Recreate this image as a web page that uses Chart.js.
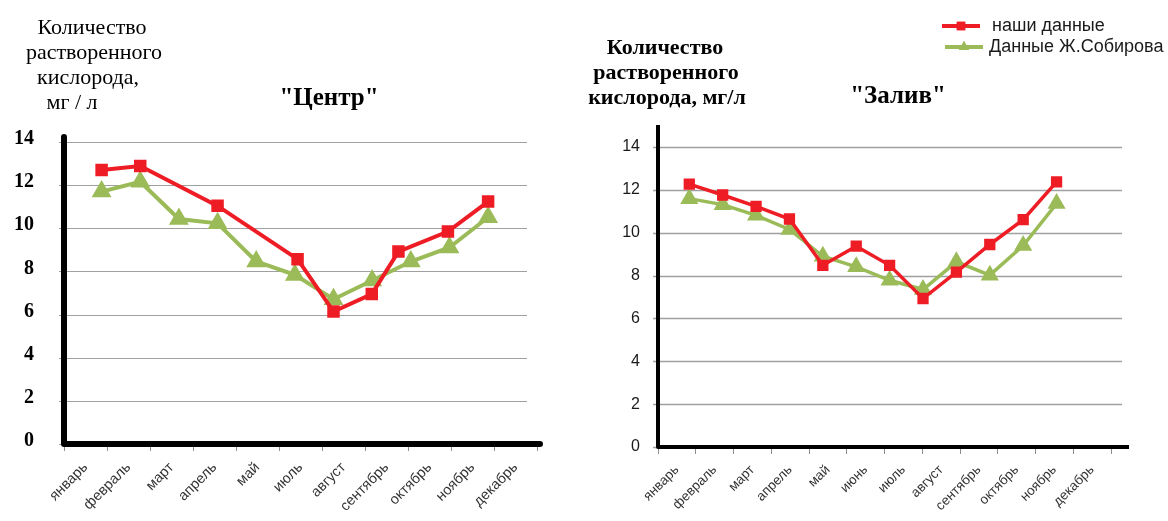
<!DOCTYPE html>
<html>
<head>
<meta charset="utf-8">
<script src="https://cdn.jsdelivr.net/npm/chart.js@4.4.1/dist/chart.umd.min.js"></script>
<style>
  html, body { margin: 0; padding: 0; background: #fff; }
  body { width: 1168px; height: 521px; position: relative; overflow: hidden; }
  .box { position: absolute; top: 0; height: 521px; }
  .t { position: absolute; white-space: nowrap; color: #000; transform: translate(-50%, -50%); line-height: 1; }
  .cap1 { font: 22px "Liberation Serif", serif; }
  .cap2 { font: bold 22px "Liberation Serif", serif; }
  .ttl { font: bold 25px "Liberation Serif", serif; }
  .leg { position: absolute; font: 18px "Liberation Sans", Arial, sans-serif; color: #1a1a1a; white-space: nowrap; transform: translateY(-50%); line-height: 1; }
  .sample { position: absolute; }
</style>
</head>
<body>
<div class="box" style="left:0;width:575px"><canvas id="center"></canvas></div>
<div class="box" style="left:580px;width:588px"><canvas id="bay"></canvas></div>

<div class="t cap1" style="left:92px;top:27px">Количество</div>
<div class="t cap1" style="left:94px;top:52px">растворенного</div>
<div class="t cap1" style="left:88px;top:77px">кислорода,</div>
<div class="t cap1" style="left:72px;top:102px">мг / л</div>
<div class="t ttl" style="left:329px;top:97px">"Центр"</div>

<div class="t cap2" style="left:665px;top:47px">Количество</div>
<div class="t cap2" style="left:666px;top:72px">растворенного</div>
<div class="t cap2" style="left:667px;top:97px">кислорода, мг/л</div>
<div class="t ttl" style="left:898px;top:95px">"Залив"</div>

<div id="legend"></div>

<script>
// --- data ---
const seriesNames = ['наши данные', 'Данные Ж.Собирова'];
const seriesColors = ['#ee1c24', '#9bbb59'];

// "Центр"
const centerMonths = ['январь', 'февраль', 'март', 'апрель', 'май', 'июль', 'август', 'сентябрь', 'октябрь', 'ноябрь', 'декабрь'];
const centerOursX = [0, 1, 3, 5.07, 6, 6.99, 7.68, 8.96, 10];
const centerOursY = [12.70, 12.89, 11.04, 8.57, 6.14, 6.95, 8.92, 9.85, 11.24];
const centerSobX = [0, 1, 2, 3, 4, 5, 6, 7, 8, 9, 10];
const centerSobY = [11.70, 12.16, 10.43, 10.23, 8.46, 7.84, 6.71, 7.58, 8.46, 9.11, 10.51];

// "Залив"
const bayMonths = ['январь', 'февраль', 'март', 'апрель', 'май', 'июнь', 'июль', 'август', 'сентябрь', 'октябрь', 'ноябрь', 'декабрь'];
const bayX = [0, 1, 2, 3, 4, 5, 6, 7, 8, 9, 10, 11];
const bayOursY = [12.27, 11.76, 11.23, 10.64, 8.48, 9.37, 8.48, 6.93, 8.16, 9.45, 10.61, 12.37];
const baySobY = [11.59, 11.31, 10.81, 10.15, 8.90, 8.41, 7.78, 7.35, 8.64, 8.02, 9.40, 11.36];

const yMin = 0, yMax = 14, yStep = 2;

function toPoints(xs, ys) {
  return xs.map((x, i) => ({ x: x, y: ys[i] }));
}

// grid lines and the thick black axes, drawn from the chart's own scales
const framePlugin = {
  id: 'frame',
  beforeDatasetsDraw(chart, args, o) {
    const { ctx, chartArea: a, scales } = chart;
    const y = scales.y;
    ctx.save();
    ctx.strokeStyle = o.gridColor;
    ctx.lineWidth = o.gridWidth;
    y.ticks.forEach((t, i) => {
      const py = Math.round(y.getPixelForTick(i)) + 0.5;
      ctx.beginPath();
      ctx.moveTo(a.left - o.tickLen, py);
      ctx.lineTo(a.right + o.gridExt, py);
      ctx.stroke();
    });
    ctx.strokeStyle = '#000';
    ctx.lineWidth = o.axisWidth;
    ctx.lineCap = o.cap;
    ctx.lineJoin = 'round';
    ctx.beginPath();
    ctx.moveTo(a.left, a.top - o.topExt);
    ctx.lineTo(a.left, a.bottom);
    ctx.lineTo(a.right + o.rightExt, a.bottom);
    ctx.stroke();
    ctx.restore();
  }
};

function buildChart(id, c) {
  return new Chart(document.getElementById(id), {
    type: 'line',
    data: {
      labels: c.labels,
      datasets: [
        {
          label: seriesNames[0],
          data: toPoints(c.oursX, c.oursY),
          xAxisID: 'xp',
          borderColor: seriesColors[0],
          backgroundColor: seriesColors[0],
          borderWidth: c.lineWidth,
          pointStyle: 'rect',
          pointRadius: c.rectR,
          tension: 0
        },
        {
          label: seriesNames[1],
          data: toPoints(c.sobX, c.sobY),
          xAxisID: 'xp',
          borderColor: seriesColors[1],
          backgroundColor: seriesColors[1],
          borderWidth: c.lineWidth,
          pointStyle: 'triangle',
          pointRadius: c.triR,
          tension: 0
        }
      ]
    },
    options: {
      responsive: true,
      maintainAspectRatio: false,
      animation: false,
      events: [],
      layout: { padding: { top: c.padTop, right: c.padRight, left: 0, bottom: 0 } },
      plugins: {
        legend: { display: false },
        tooltip: { enabled: false },
        frame: c.frame
      },
      scales: {
        x: {
          type: 'category',
          offset: true,
          grid: { offset: true, drawOnChartArea: false, drawTicks: true, tickLength: 7, color: '#8c8c8c' },
          border: { display: false },
          ticks: {
            autoSkip: false, minRotation: 45, maxRotation: 45, padding: c.xPad,
            color: '#333', font: { family: '"Liberation Sans", Arial, sans-serif', size: c.xFont }
          },
          afterFit(s) { s.height = c.xHeight; }
        },
        xp: { type: 'linear', display: false, min: c.xpMin, max: c.xpMax },
        y: {
          min: yMin, max: yMax,
          grid: { color: 'rgba(0,0,0,0)', drawTicks: true, tickLength: 5 },
          border: { display: false },
          ticks: { stepSize: yStep, padding: c.yPad, labelOffset: c.yLabelOffset, color: c.yColor, font: c.yFontSpec },
          afterFit(s) { s.width = c.yWidth; }
        }
      }
    },
    plugins: [framePlugin]
  });
}

buildChart('center', {
  labels: centerMonths,
  oursX: centerOursX, oursY: centerOursY,
  sobX: centerSobX, sobY: centerSobY,
  lineWidth: 4, rectR: 6, triR: 7.5,
  padTop: 142, padRight: 38, yWidth: 64, xHeight: 77,
  xpMin: -0.973, xpMax: 11.265,
  xPad: 8, xFont: 14.5,
  yPad: 25, yLabelOffset: -3, yColor: '#000',
  yFontSpec: { family: '"Liberation Serif", serif', size: 20, weight: 'bold' },
  frame: { gridColor: '#a0a0a0', gridWidth: 1, tickLen: 5, gridExt: -10, axisWidth: 6, cap: 'round', topExt: 5, rightExt: 3 }
});

buildChart('bay', {
  labels: bayMonths,
  oursX: bayX, oursY: bayOursY,
  sobX: bayX, sobY: baySobY,
  lineWidth: 3.5, rectR: 5.5, triR: 7,
  padTop: 147, padRight: 57, yWidth: 78, xHeight: 74,
  xpMin: -0.937, xpMax: 12.63,
  xPad: 8, xFont: 13.5,
  yPad: 13, yLabelOffset: 0, yColor: '#1a1a1a',
  yFontSpec: { family: '"Liberation Sans", Arial, sans-serif', size: 16 },
  frame: { gridColor: '#a0a0a0', gridWidth: 1.5, tickLen: 5, gridExt: 11, axisWidth: 4, cap: 'butt', topExt: 22, rightExt: 18 }
});

// legend in the top right corner
const legendPos = [{ x: 942, y: 26, tx: 992 }, { x: 945, y: 47, tx: 989 }];
const legendStyles = ['rect', 'triangle'];
const legend = document.getElementById('legend');
seriesNames.forEach((name, i) => {
  const p = legendPos[i];
  const cv = document.createElement('canvas');
  cv.width = 38; cv.height = 18;
  cv.className = 'sample';
  cv.style.left = p.x + 'px';
  cv.style.top = (p.y - 9) + 'px';
  const g = cv.getContext('2d');
  g.strokeStyle = seriesColors[i];
  g.fillStyle = seriesColors[i];
  g.lineWidth = 4;
  g.beginPath(); g.moveTo(0, 9); g.lineTo(38, 9); g.stroke();
  Chart.helpers.drawPoint(g, { pointStyle: legendStyles[i], radius: 6, borderWidth: 0 }, 19, 9);
  g.fill();
  legend.appendChild(cv);
  const t = document.createElement('div');
  t.className = 'leg';
  t.style.left = p.tx + 'px';
  t.style.top = (p.y - 1) + 'px';
  t.textContent = name;
  legend.appendChild(t);
});
</script>
</body>
</html>
